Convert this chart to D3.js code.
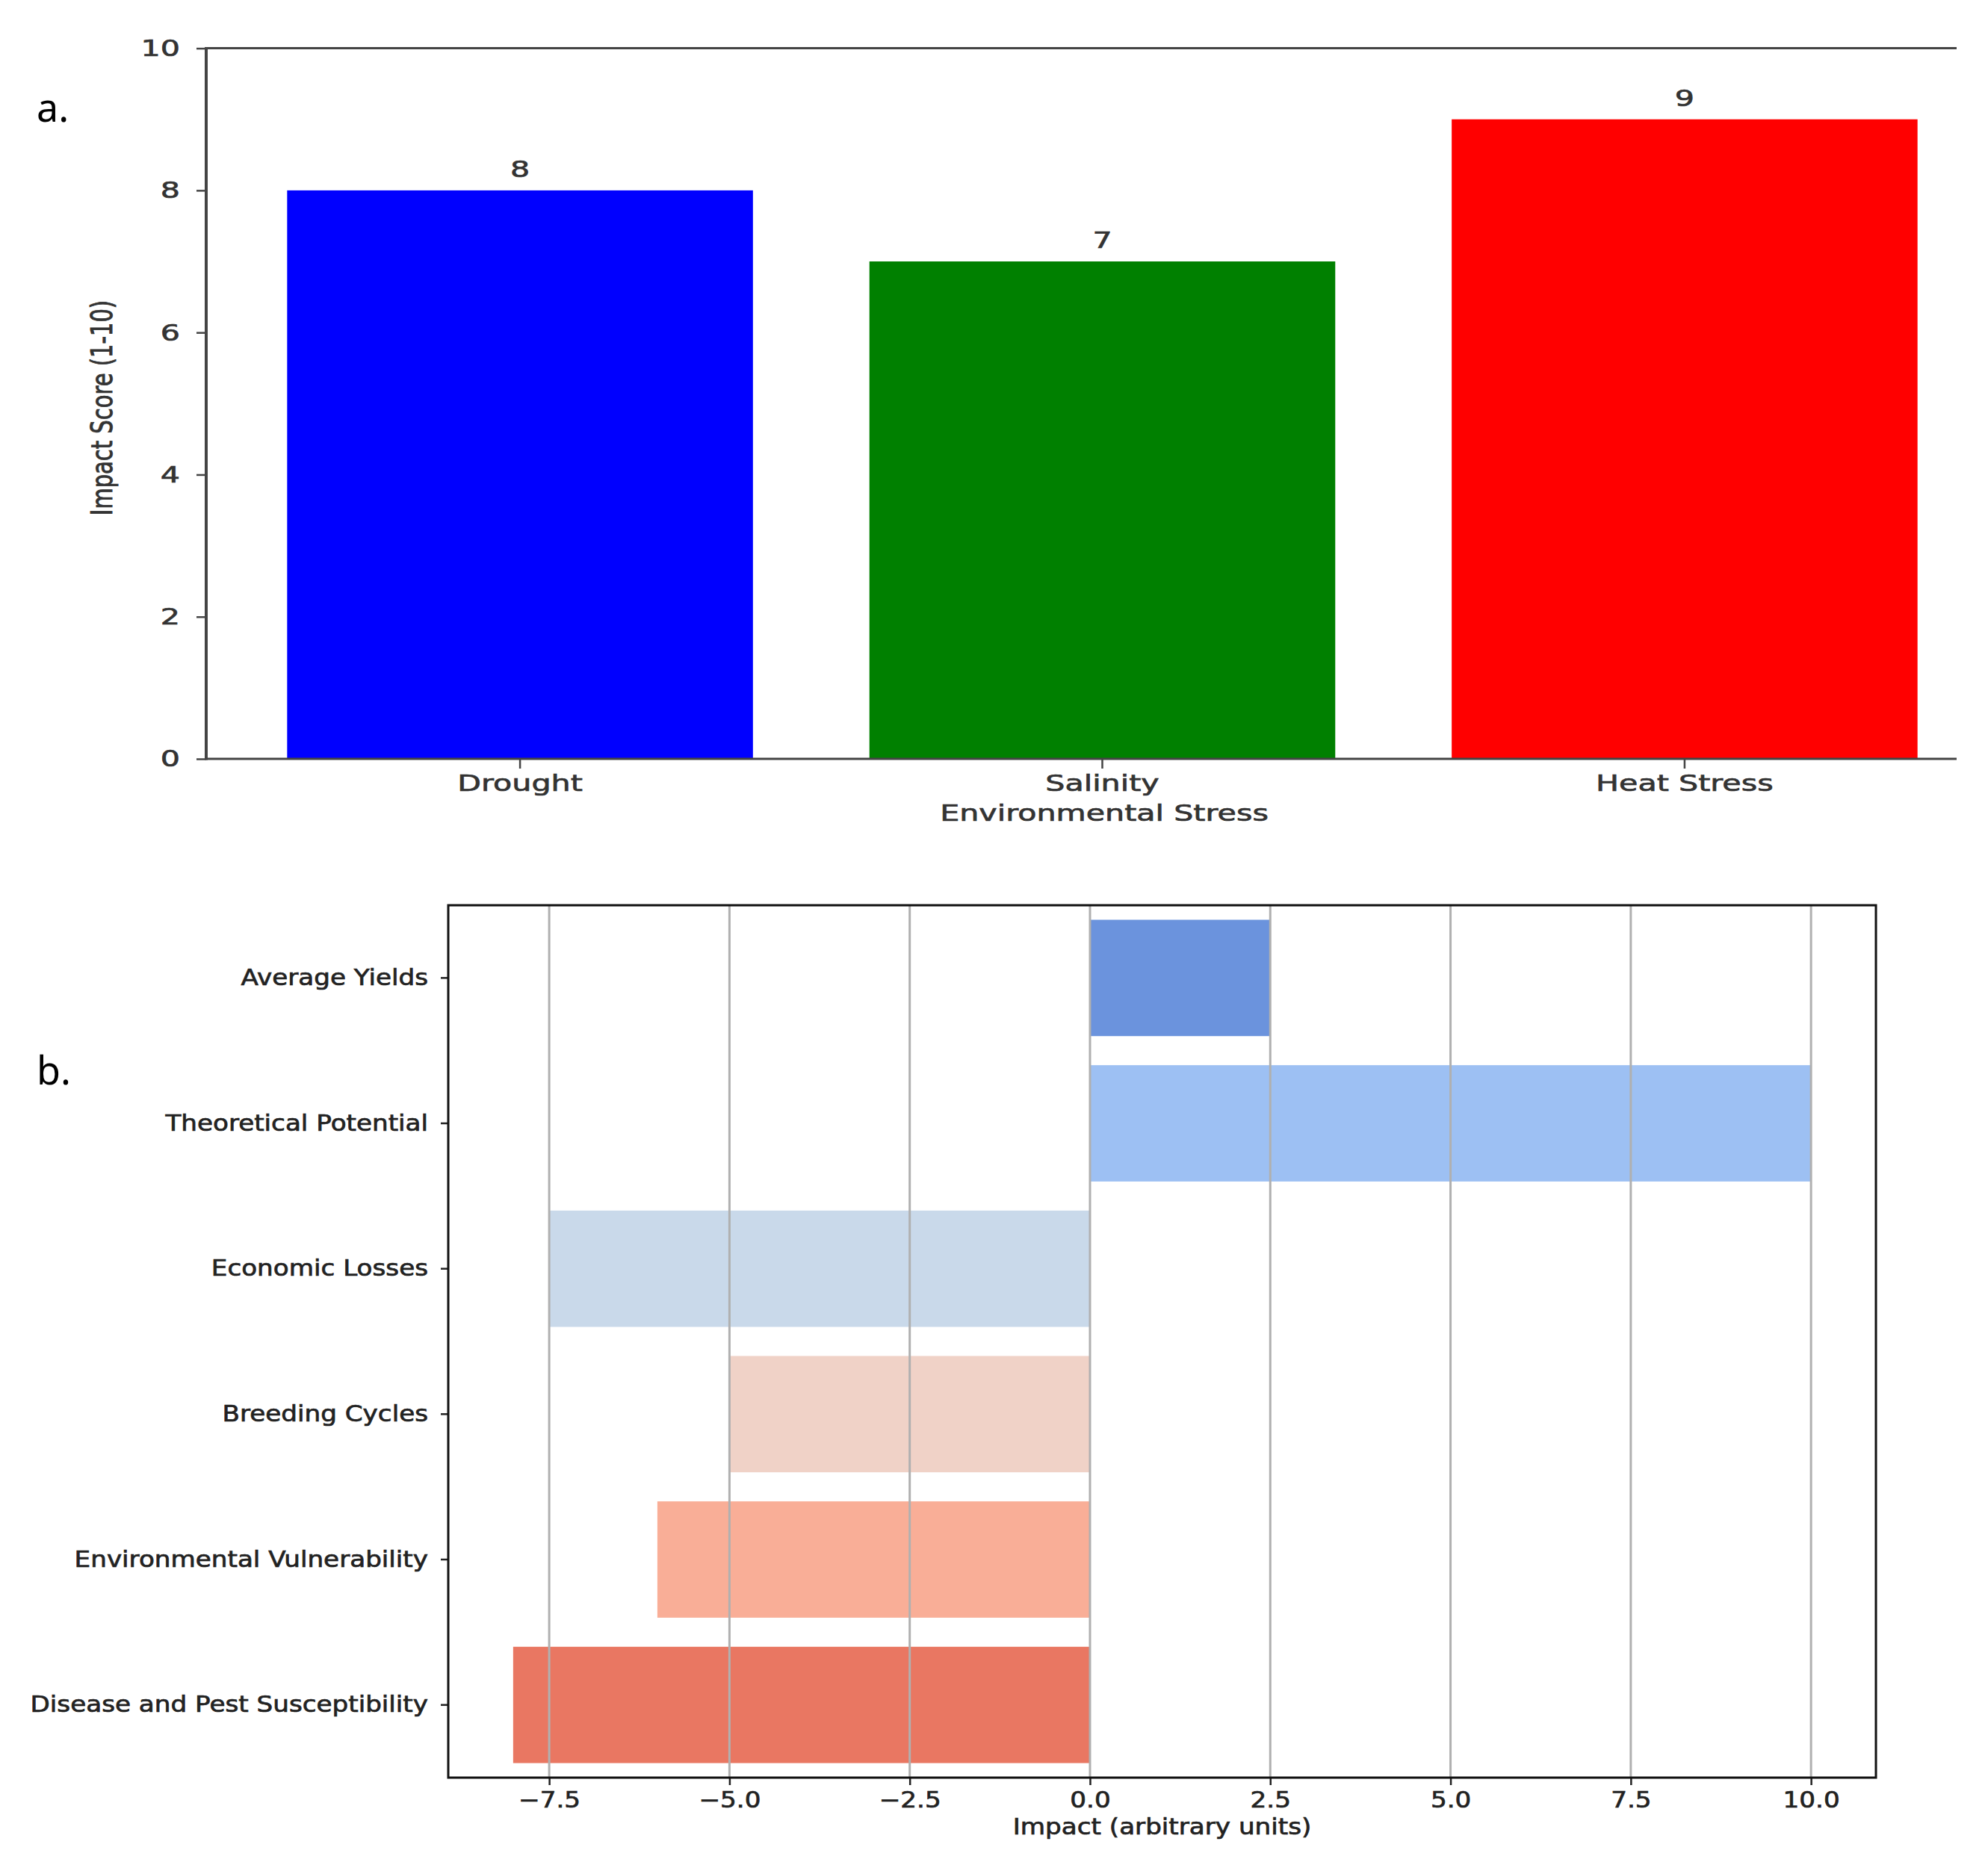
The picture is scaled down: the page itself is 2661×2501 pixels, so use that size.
<!DOCTYPE html>
<html>
<head>
<meta charset="utf-8">
<script src="https://cdn.jsdelivr.net/npm/d3@7"></script>
<style>
  html, body { margin: 0; padding: 0; background: #ffffff; }
  svg { display: block; }
</style>
</head>
<body>
<div id="chart"></div>
<script>
// ---------- Data: panel a ----------
const categoriesA = ["Drought", "Salinity", "Heat Stress"];
const valuesA = [8, 7, 9];
const colorsA = ["#0000ff", "#008000", "#ff0000"];
const yTicksA = [0, 2, 4, 6, 8, 10];

// ---------- Data: panel b ----------
const categoriesB = ["Average Yields", "Theoretical Potential", "Economic Losses",
  "Breeding Cycles", "Environmental Vulnerability", "Disease and Pest Susceptibility"];
const valuesB = [2.5, 10, -7.5, -5, -6, -8];
const colorsB = ["#6b93dd", "#9dc0f3", "#c9d9ea", "#f0d2c7", "#f9ae97", "#e97762"];
const xTicksB = [-7.5, -5, -2.5, 0, 2.5, 5, 7.5, 10];

const W = 2661, H = 2501;
const svg = d3.select("#chart").append("svg")
  .attr("width", W).attr("height", H)
  .attr("viewBox", `0 0 ${W} ${H}`);
svg.append("rect").attr("width", W).attr("height", H).attr("fill", "#ffffff");

const FONT = "DejaVu Sans, Verdana, sans-serif";

function stretchAxisText(g, sx) {
  g.selectAll("text").each(function () {
    const t = d3.select(this);
    const x = +t.attr("x") || 0;
    const y = +t.attr("y") || 0;
    t.attr("x", 0).attr("y", 0)
     .attr("transform", `translate(${x},${y}) scale(${sx},1)`);
  });
}
function heavy(sel, color) {
  sel.attr("fill", color).attr("stroke", color).attr("stroke-width", 0.7);
}

// ================= Panel a =================
const SA = 1.33; // horizontal stretch of panel a text
const aLeft = 276, aTop = 64.6, aBottom = 1016, aRightVisible = 2619;
const xA = d3.scaleBand().domain(categoriesA).range([aLeft, 2675])
  .paddingInner(0.2).paddingOuter(0.139);
const yA = d3.scaleLinear().domain([0, 10]).range([aBottom, aTop]);

const gA = svg.append("g");

// bars
gA.selectAll("rect.barA").data(categoriesA).join("rect")
  .attr("class", "barA")
  .attr("x", d => xA(d))
  .attr("width", xA.bandwidth())
  .attr("y", (d, i) => yA(valuesA[i]))
  .attr("height", (d, i) => yA(0) - yA(valuesA[i]))
  .attr("fill", (d, i) => colorsA[i]);

// bar value labels
heavy(gA.selectAll("text.valA").data(categoriesA).join("text")
  .attr("class", "valA")
  .attr("transform", (d, i) => `translate(${xA(d) + xA.bandwidth() / 2},${yA(valuesA[i]) - 18}) scale(${SA},1)`)
  .attr("text-anchor", "middle")
  .attr("font-family", FONT).attr("font-size", 31)
  .text((d, i) => valuesA[i]), "#333333");

// y axis
const yAxisA = gA.append("g").attr("transform", `translate(${aLeft},0)`)
  .call(d3.axisLeft(yA).tickValues(yTicksA).tickSize(13).tickPadding(22).tickFormat(d3.format("d")));
yAxisA.select(".domain").remove();
yAxisA.selectAll(".tick line").attr("stroke", "#444444").attr("stroke-width", 2.5);
heavy(yAxisA.selectAll("text").attr("font-family", FONT).attr("font-size", 31), "#333333");
stretchAxisText(yAxisA, SA);

// x axis
const xAxisA = gA.append("g").attr("transform", `translate(0,${aBottom})`)
  .call(d3.axisBottom(xA).tickSize(13).tickPadding(8));
xAxisA.select(".domain").remove();
xAxisA.selectAll(".tick line").attr("stroke", "#444444").attr("stroke-width", 2.5);
heavy(xAxisA.selectAll("text").attr("font-family", FONT).attr("font-size", 31), "#333333");
stretchAxisText(xAxisA, SA);

// spines (right side cropped in the reference)
gA.append("line").attr("x1", aLeft).attr("x2", aLeft).attr("y1", aTop - 1.5).attr("y2", aBottom + 1.5)
  .attr("stroke", "#444444").attr("stroke-width", 4);
gA.append("line").attr("x1", aLeft).attr("x2", aRightVisible).attr("y1", aTop).attr("y2", aTop)
  .attr("stroke", "#444444").attr("stroke-width", 3);
gA.append("line").attr("x1", aLeft).attr("x2", aRightVisible).attr("y1", aBottom).attr("y2", aBottom)
  .attr("stroke", "#444444").attr("stroke-width", 3);

// axis labels
heavy(gA.append("text")
  .attr("transform", `translate(${(aLeft + 2680) / 2},1099) scale(${SA},1)`)
  .attr("text-anchor", "middle")
  .attr("font-family", FONT).attr("font-size", 31)
  .text("Environmental Stress"), "#333333");
heavy(gA.append("text")
  .attr("transform", `translate(150,546) scale(${SA},1) rotate(-90)`)
  .attr("text-anchor", "middle")
  .attr("font-family", FONT).attr("font-size", 29)
  .text("Impact Score (1-10)"), "#333333");

// panel letter
svg.append("text").attr("x", 49).attr("y", 163)
  .attr("font-family", "Noto Sans, Open Sans, sans-serif").attr("font-size", 52).attr("fill", "#000000")
  .text("a.");

// ================= Panel b =================
const SB = 1.14;
const bLeft = 600, bRight = 2511, bTop = 1212, bBottom = 2380;
const xB = d3.scaleLinear().domain([-8.9, 10.9]).range([bLeft, bRight]);
const yB = d3.scaleBand().domain(categoriesB).range([bTop, bBottom])
  .paddingInner(0.2).paddingOuter(0.1);

const gB = svg.append("g");

// bars
gB.selectAll("rect.barB").data(categoriesB).join("rect")
  .attr("class", "barB")
  .attr("x", (d, i) => xB(Math.min(0, valuesB[i])))
  .attr("width", (d, i) => Math.abs(xB(valuesB[i]) - xB(0)))
  .attr("y", d => yB(d))
  .attr("height", yB.bandwidth())
  .attr("fill", (d, i) => colorsB[i]);

// grid lines
gB.selectAll("line.gridB").data(xTicksB).join("line")
  .attr("class", "gridB")
  .attr("x1", d => xB(d)).attr("x2", d => xB(d))
  .attr("y1", bTop).attr("y2", bBottom)
  .attr("stroke", "#b0b0b0").attr("stroke-width", 3);

// x axis
const xAxisB = gB.append("g").attr("transform", `translate(0,${bBottom})`)
  .call(d3.axisBottom(xB).tickValues(xTicksB).tickSize(10).tickPadding(9).tickFormat(d3.format(".1f")));
xAxisB.select(".domain").remove();
xAxisB.selectAll(".tick line").attr("stroke", "#222222").attr("stroke-width", 2.5);
heavy(xAxisB.selectAll("text").attr("font-family", FONT).attr("font-size", 30), "#222222");
stretchAxisText(xAxisB, SB);

// y axis
const yAxisB = gB.append("g").attr("transform", `translate(${bLeft},0)`)
  .call(d3.axisLeft(yB).tickSize(10).tickPadding(17));
yAxisB.select(".domain").remove();
yAxisB.selectAll(".tick line").attr("stroke", "#222222").attr("stroke-width", 2.5);
heavy(yAxisB.selectAll("text").attr("font-family", FONT).attr("font-size", 30), "#222222");
stretchAxisText(yAxisB, SB);

// frame
gB.append("rect").attr("x", bLeft).attr("y", bTop)
  .attr("width", bRight - bLeft).attr("height", bBottom - bTop)
  .attr("fill", "none").attr("stroke", "#111111").attr("stroke-width", 3);

// x label
heavy(gB.append("text")
  .attr("transform", `translate(${(bLeft + bRight) / 2},2456) scale(${SB},1)`)
  .attr("text-anchor", "middle")
  .attr("font-family", FONT).attr("font-size", 30)
  .text("Impact (arbitrary units)"), "#222222");

// panel letter
svg.append("text").attr("x", 49).attr("y", 1452)
  .attr("font-family", "Noto Sans, Open Sans, sans-serif").attr("font-size", 52).attr("fill", "#000000")
  .text("b.");
</script>
</body>
</html>
